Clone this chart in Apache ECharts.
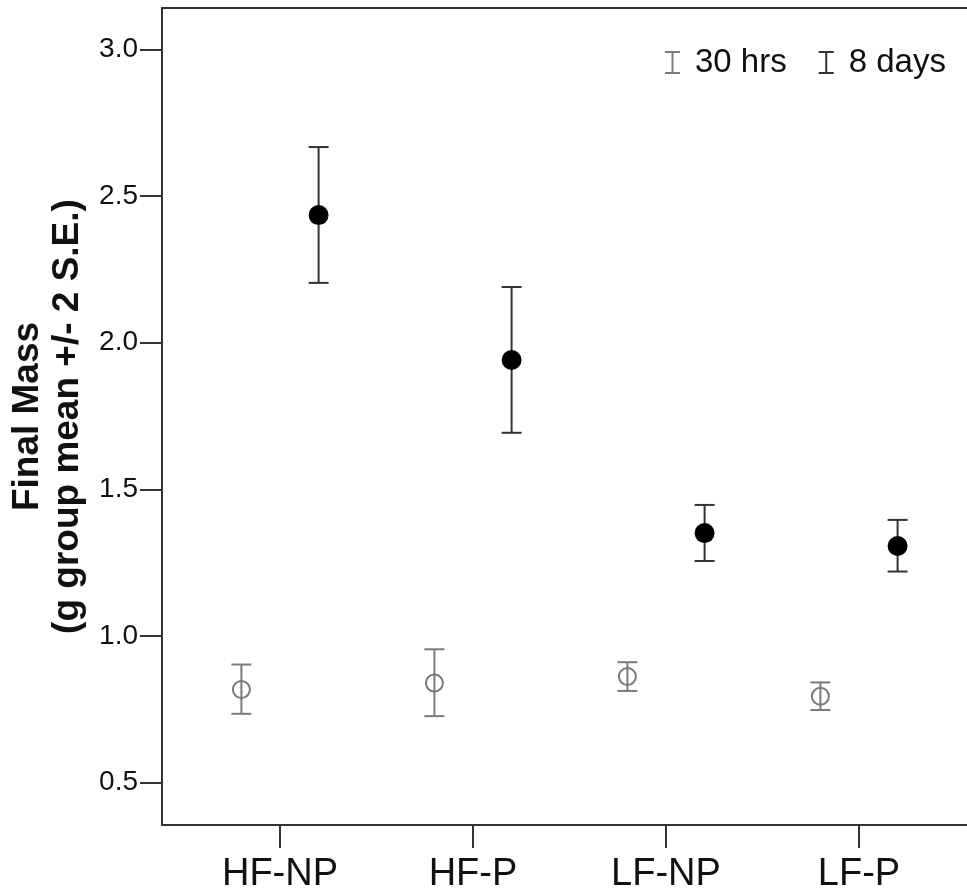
<!DOCTYPE html>
<html>
<head>
<meta charset="utf-8">
<script src="https://cdn.jsdelivr.net/npm/echarts@6/dist/echarts.min.js"></script>
<style>html,body{margin:0;padding:0;background:#fff;}#c{width:967px;height:890px;}</style>
</head>
<body>
<div id="c"></div>
<script>
const categories = ['HF-NP', 'HF-P', 'LF-NP', 'LF-P'];
const seriesNames = ['30 hrs', '8 days'];
const hrs30Mean = [0.818, 0.840, 0.862, 0.795];
const hrs30Low  = [0.735, 0.727, 0.813, 0.748];
const hrs30High = [0.903, 0.955, 0.911, 0.842];
const days8Mean = [2.435, 1.941, 1.351, 1.307];
const days8Low  = [2.204, 1.693, 1.256, 1.220];
const days8High = [2.667, 2.190, 1.447, 1.396];
const yTicks = [0.5, 1.0, 1.5, 2.0, 2.5, 3.0];

const GREY = '#7a7a7a';
const DARK = '#333333';
const dodge = 0.2;

function build(mean, low, high, off) {
  return categories.map((c, i) => [i + 1 + off, mean[i], low[i], high[i]]);
}

function makeRender(lineColor, filled) {
  return function (params, api) {
    const x = api.value(0);
    const pm = api.coord([x, api.value(1)]);
    const pl = api.coord([x, api.value(2)]);
    const ph = api.coord([x, api.value(3)]);
    const half = 10;
    const ls = { stroke: lineColor, lineWidth: 2 };
    return {
      type: 'group',
      children: [
        { type: 'line', shape: { x1: pl[0], y1: pl[1], x2: ph[0], y2: ph[1] }, style: ls },
        { type: 'line', shape: { x1: ph[0] - half, y1: ph[1], x2: ph[0] + half, y2: ph[1] }, style: ls },
        { type: 'line', shape: { x1: pl[0] - half, y1: pl[1], x2: pl[0] + half, y2: pl[1] }, style: ls },
        filled
          ? { type: 'circle', shape: { cx: pm[0], cy: pm[1], r: 10 }, style: { fill: '#000' } }
          : { type: 'circle', shape: { cx: pm[0], cy: pm[1], r: 8.5 }, style: { fill: 'none', stroke: lineColor, lineWidth: 2 } }
      ]
    };
  };
}

const ibeam = 'path://M0,0h15v2h-6.5v19h6.5v2h-15v-2h6.5v-19h-6.5z';

const chart = echarts.init(document.getElementById('c'), null, { renderer: 'canvas' });
chart.setOption({
  animation: false,
  backgroundColor: '#fff',
  textStyle: { fontFamily: 'Liberation Sans, Arial, sans-serif' },
  grid: { left: 162, top: 8, width: 805, height: 817, show: false, containLabel: false, outerBoundsMode: 'none' },
  legend: {
    left: 660, top: 41,
    itemWidth: 15, itemHeight: 23, itemGap: 32,
    textStyle: { fontSize: 33, color: '#111', padding: [0, 0, 0, 10], fontFamily: 'Liberation Sans, Arial, sans-serif' },
    data: [
      { name: seriesNames[0], icon: ibeam, itemStyle: { color: GREY } },
      { name: seriesNames[1], icon: ibeam, itemStyle: { color: DARK } }
    ]
  },
  xAxis: [
    {
      type: 'value',
      min: 0.3886, max: 4.5596,
      splitLine: { show: false },
      axisLine: { lineStyle: { color: DARK, width: 2 } },
      axisTick: { show: true, length: 23, lineStyle: { color: DARK, width: 2 }, customValues: [1, 2, 3, 4] },
      axisLabel: {
        customValues: [1, 2, 3, 4],
        fontSize: 38, color: '#111', margin: 31,
        formatter: v => categories[Math.round(v) - 1] || ''
      }
    },
    {
      type: 'value', position: 'top',
      min: 0.3886, max: 4.5596,
      splitLine: { show: false },
      axisLine: { show: true, lineStyle: { color: DARK, width: 2 } },
      axisTick: { show: false },
      axisLabel: { show: false }
    }
  ],
  yAxis: {
    type: 'value',
    min: 0.356, max: 3.141,
    splitLine: { show: false },
    axisLine: { lineStyle: { color: DARK, width: 2 } },
    axisTick: { show: true, length: 22, lineStyle: { color: DARK, width: 2 }, customValues: yTicks },
    axisLabel: { customValues: yTicks, fontSize: 28, color: '#111', margin: 24, formatter: v => v.toFixed(1) },
    name: 'Final Mass\n(g group mean +/- 2 S.E.)',
    nameLocation: 'middle',
    nameRotate: 90,
    nameGap: 74,
    nameTextStyle: { fontSize: 37, fontWeight: 'bold', color: '#111', lineHeight: 40, fontFamily: 'Liberation Sans, Arial, sans-serif' }
  },
  series: [
    {
      name: seriesNames[0], type: 'custom',
      itemStyle: { color: GREY },
      renderItem: makeRender(GREY, false),
      encode: { x: 0, y: [1, 2, 3] },
      data: build(hrs30Mean, hrs30Low, hrs30High, -dodge)
    },
    {
      name: seriesNames[1], type: 'custom',
      itemStyle: { color: DARK },
      renderItem: makeRender(DARK, true),
      encode: { x: 0, y: [1, 2, 3] },
      data: build(days8Mean, days8Low, days8High, dodge)
    }
  ]
});
</script>
</body>
</html>
